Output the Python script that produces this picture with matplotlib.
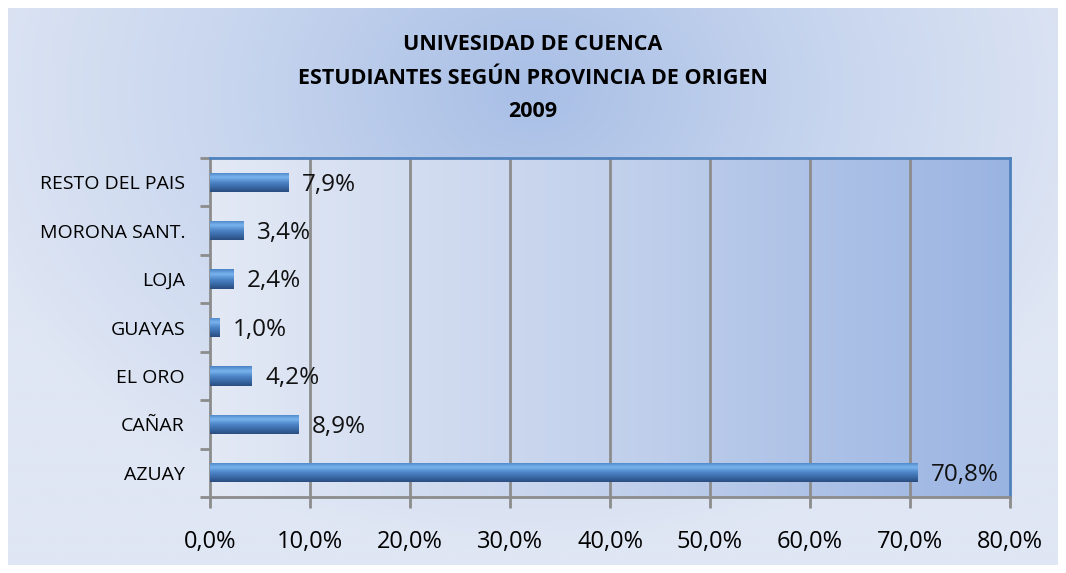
import numpy as np
import matplotlib.pyplot as plt
from matplotlib.colors import LinearSegmentedColormap
from matplotlib.ticker import FixedLocator

categories = ["AZUAY", "CAÑAR", "EL ORO", "GUAYAS", "LOJA", "MORONA SANT.", "RESTO DEL PAIS"]
values = [70.8, 8.9, 4.2, 1.0, 2.4, 3.4, 7.9]
labels = ["70,8%", "8,9%", "4,2%", "1,0%", "2,4%", "3,4%", "7,9%"]
xticks = [0, 10, 20, 30, 40, 50, 60, 70, 80]
xtick_labels = ["0,0%", "10,0%", "20,0%", "30,0%", "40,0%", "50,0%", "60,0%", "70,0%", "80,0%"]
title = "UNIVESIDAD DE CUENCA\nESTUDIANTES SEGÚN PROVINCIA DE ORIGEN\n2009"

plt.rcParams['font.family'] = ['Open Sans', 'DejaVu Sans']

fig = plt.figure(figsize=(10.66, 5.73), dpi=100)
fig.patch.set_facecolor('white')

# chart area background: radial-ish gradient
bg = fig.add_axes([8/1066, 8/573, 1050/1066, 557/573])
bg.set_axis_off()
yy, xx = np.mgrid[0:1:300j, 0:1:600j]
r = np.sqrt(((xx - 0.5) / 0.75) ** 2 + ((yy - 0.15) / 1.1) ** 2)
r = np.clip(r / 0.75, 0, 1)
bg_cmap = LinearSegmentedColormap.from_list('bg', ['#a9bfe6', '#c7d5ee', '#dfe6f4'])
bg.imshow(r, cmap=bg_cmap, aspect='auto', extent=[0, 1, 0, 1], origin='upper')
bg.set_xlim(0, 1)
bg.set_ylim(0, 1)

ax = fig.add_axes([210/1066, 1 - 497/573, 800/1066, 339/573])
ax.set_xlim(0, 80)
ax.set_ylim(-0.5, len(categories) - 0.5)

# plot area gradient left->right
pa_cmap = LinearSegmentedColormap.from_list('pa', ['#e3e9f5', '#c3d1ec', '#9ab4e2'])
grad = np.linspace(0, 1, 256).reshape(1, -1)
ax.imshow(grad, cmap=pa_cmap, aspect='auto', extent=[0, 80, -0.5, len(categories) - 0.5], zorder=0)

for x in xticks[1:-1]:
    ax.axvline(x, color='#8c8c8c', lw=2, zorder=1)

# bars with vertical shading
bar_cmap = LinearSegmentedColormap.from_list('bar', ['#2a4d80', '#3a6aa8', '#4f86c8', '#7ab4ee', '#4a82c6'])
bh = 0.4
bars = ax.barh(range(len(categories)), values, height=bh, color='#3a6aa8', zorder=2)
vgrad = np.linspace(0, 1, 64).reshape(-1, 1)
for i, (b, v) in enumerate(zip(bars, values)):
    im = ax.imshow(vgrad, cmap=bar_cmap, aspect='auto',
                   extent=[0, v, i - bh / 2, i + bh / 2], origin='lower', zorder=3)
    im.set_clip_path(b)
    ax.text(v + 1.3, i - 0.05, labels[i], va='center', ha='left', fontsize=17.5, color='#111111', zorder=4)

ax.set_yticks(range(len(categories)))
ax.set_yticklabels(categories, fontsize=14)
ax.yaxis.set_minor_locator(FixedLocator(np.arange(-0.5, len(categories), 1)))
ax.tick_params(axis='y', which='major', length=0, pad=18)
ax.tick_params(axis='y', which='minor', length=7, width=2, color='#8c8c8c')
ax.set_xticks(xticks)
ax.set_xticklabels(xtick_labels, fontsize=17)
ax.tick_params(axis='x', length=8, width=2, color='#8c8c8c', pad=16)

for s in ['left', 'bottom']:
    ax.spines[s].set_color('#8c8c8c')
    ax.spines[s].set_linewidth(2)
for s in ['top', 'right']:
    ax.spines[s].set_color('#4f81bd')
    ax.spines[s].set_linewidth(2)

fig.text(0.5, 1 - 78/573, title, ha='center', va='center', fontsize=15.5,
         fontweight='bold', linespacing=1.8)

fig.savefig('out.png', dpi=100)
